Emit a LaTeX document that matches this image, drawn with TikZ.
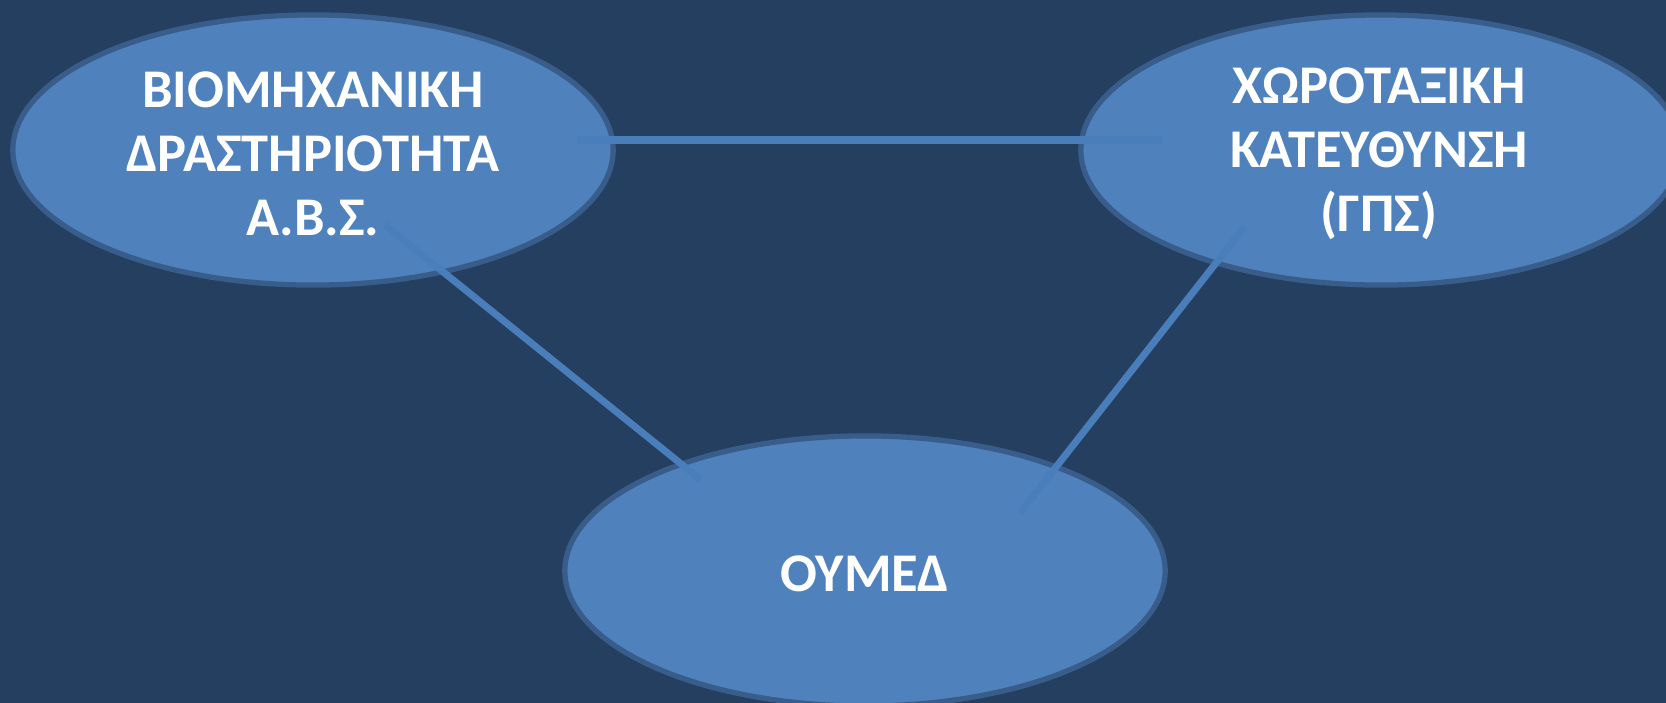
\documentclass[tikz,border=0pt]{standalone}
\usepackage{fontspec}
\setmainfont{Carlito}
\usetikzlibrary{calc,shapes.geometric}

\definecolor{slidebg}{HTML}{243F60}
\definecolor{ovalfill}{HTML}{4F81BD}
\definecolor{ovalrim}{HTML}{385D8A}
\definecolor{linkcol}{HTML}{4A7EBB}

\tikzset{
    oval/.style={ellipse, fill=ovalfill, draw=ovalrim, line width=1.5pt,
        minimum width=6cm, minimum height=2.7cm, inner sep=0pt},
    ovaltext/.style={text=white, align=center, inner sep=0pt,
        font=\fontsize{15.5}{18.2}\selectfont\bfseries},
    link/.style={draw=linkcol, line width=2pt}
}

\begin{document}
\begin{tikzpicture}[x=0.01cm, y=-0.01cm]
    % Background and page size
    \fill[slidebg] (0,0) rectangle (1666,703);
    \useasboundingbox (0,0) rectangle (1666,703);
    \clip (0,0) rectangle (1666,703);

    % Ovals
    \node[oval] (bio) at (313,150) {};
    \node[oval] (gps) at (1381,150) {};
    \node[oval] (oymed) at (865,571) {};

    % End points of the links
    \coordinate (bio-r) at ($(bio)+(264,-10)$);
    \coordinate (bio-d) at ($(bio)+(72,75)$);
    \coordinate (gps-l) at ($(gps)+(-218,-10)$);
    \coordinate (gps-d) at ($(gps)+(-136,76)$);
    \coordinate (oymed-l) at ($(oymed)+(-164,-91)$);
    \coordinate (oymed-r) at ($(oymed)+(155,-58)$);

    % Links
    \draw[link] (bio-r) -- (gps-l);
    \draw[link] (bio-d) -- (oymed-l);
    \draw[link] (gps-d) -- (oymed-r);

    % Texts
    \node[ovaltext] (bio-txt) at ($(bio)+(0,4)$) {ΒΙΟΜΗΧΑΝΙΚΗ\\ΔΡΑΣΤΗΡΙΟΤΗΤΑ\\Α.Β.Σ.};
    \node[ovaltext] (gps-txt) at ($(gps)+(-2,4)$) {ΧΩΡΟΤΑΞΙΚΗ\\ΚΑΤΕΥΘΥΝΣΗ\\(ΓΠΣ)};
    \node[ovaltext] (oymed-txt) at ($(oymed)+(0,3)$) {ΟΥΜΕΔ};
\end{tikzpicture}
\end{document}
